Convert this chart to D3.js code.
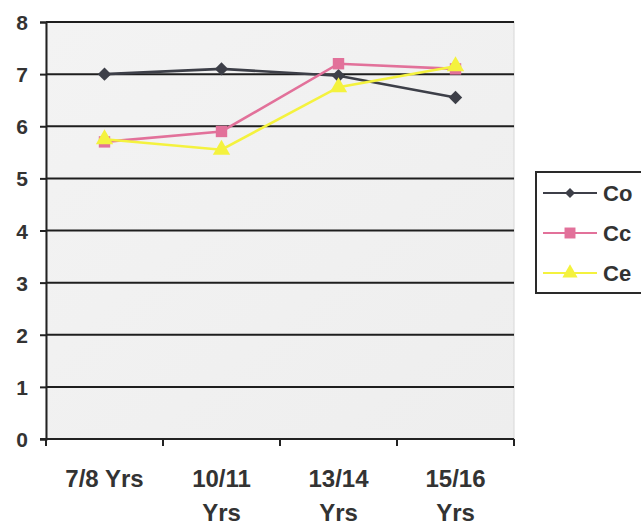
<!DOCTYPE html>
<html>
<head>
<meta charset="utf-8">
<script src="https://cdn.jsdelivr.net/npm/d3@7"></script>
<style>
  html, body { margin: 0; padding: 0; background: #ffffff; }
  svg { display: block; }
  text { font-family: "Liberation Sans", Arial, sans-serif; font-weight: bold; fill: #333333; }
</style>
</head>
<body>
<svg id="chart" width="641" height="527"></svg>
<script>
const categories = [["7/8 Yrs"], ["10/11", "Yrs"], ["13/14", "Yrs"], ["15/16", "Yrs"]];
const seriesNames = ["Co", "Cc", "Ce"];
const coValues = [7.0, 7.1, 6.97, 6.55];
const ccValues = [5.7, 5.9, 7.2, 7.1];
const ceValues = [5.75, 5.55, 6.75, 7.15];
const yTicks = [0, 1, 2, 3, 4, 5, 6, 7, 8];

// rotated-square diamond symbol
const squareDiamond = {
  draw(ctx, size) {
    const r = Math.sqrt(size / 2);
    ctx.moveTo(0, -r); ctx.lineTo(r, 0); ctx.lineTo(0, r); ctx.lineTo(-r, 0); ctx.closePath();
  }
};

const series = [
  { name: seriesNames[0], values: coValues, color: "#3d3f48", marker: squareDiamond, size: 90, lsize: 50 },
  { name: seriesNames[1], values: ccValues, color: "#e2719a", marker: d3.symbolSquare, size: 130, lsize: 120 },
  { name: seriesNames[2], values: ceValues, color: "#f4f23e", marker: d3.symbolTriangle, size: 130, lsize: 100 }
];

const svg = d3.select("#chart");
const pL = 46, pR = 514, pT = 22, pB = 439;

const x = d3.scaleBand().domain(categories.map((c, i) => i)).range([pL, pR]);
const y = d3.scaleLinear().domain([0, 8]).range([pB, pT]);

// plot background
const grad = svg.append("defs").append("linearGradient").attr("id", "bg")
  .attr("x1", 0).attr("y1", 0).attr("x2", 1).attr("y2", 1);
grad.append("stop").attr("offset", "0%").attr("stop-color", "#f3f3f3");
grad.append("stop").attr("offset", "100%").attr("stop-color", "#eeeeee");
svg.append("rect").attr("x", pL).attr("y", pT).attr("width", pR - pL).attr("height", pB - pT)
  .attr("fill", "url(#bg)").attr("stroke", "#d8d8d8").attr("stroke-width", 1);

// gridlines
svg.append("g").selectAll("line").data(yTicks.filter(t => t > 0)).join("line")
  .attr("x1", pL).attr("x2", pR)
  .attr("y1", d => y(d)).attr("y2", d => y(d))
  .attr("stroke", "#1e1e1e").attr("stroke-width", 2);

// y axis
const yAxis = svg.append("g").attr("transform", `translate(${pL},0)`)
  .call(d3.axisLeft(y).tickValues(yTicks).tickSize(6).tickPadding(12).tickFormat(d3.format("d")));
yAxis.select(".domain").attr("stroke", "#222").attr("stroke-width", 2);
yAxis.selectAll(".tick line").attr("stroke", "#222").attr("stroke-width", 2);
yAxis.selectAll(".tick text").attr("font-size", 21).attr("font-family", "Liberation Sans, Arial, sans-serif")
  .attr("font-weight", "bold").attr("fill", "#333").attr("dy", "0.36em");

// x axis
const xAxisG = svg.append("g").attr("transform", `translate(0,${pB})`);
xAxisG.append("line").attr("x1", pL - 6).attr("x2", pR).attr("y1", 0).attr("y2", 0)
  .attr("stroke", "#222").attr("stroke-width", 2);
const bounds = categories.map((c, i) => x(i)).concat([x(categories.length - 1) + x.bandwidth()]);
xAxisG.selectAll("line.tk").data(bounds).join("line").attr("class", "tk")
  .attr("x1", d => d).attr("x2", d => d).attr("y1", 0).attr("y2", 7)
  .attr("stroke", "#222").attr("stroke-width", 2);
const lab = xAxisG.selectAll("text.cat").data(categories).join("text").attr("class", "cat")
  .attr("text-anchor", "middle").attr("font-size", 24)
  .attr("x", (d, i) => x(i) + x.bandwidth() / 2);
lab.selectAll("tspan").data(d => d).join("tspan")
  .attr("x", function() { return d3.select(this.parentNode).attr("x"); })
  .attr("y", (d, j) => 48 + j * 34)
  .text(d => d);

// lines and markers
const line = d3.line().x((d, i) => x(i) + x.bandwidth() / 2).y(d => y(d));
series.forEach(s => {
  svg.append("path").datum(s.values).attr("d", line)
    .attr("fill", "none").attr("stroke", s.color).attr("stroke-width", 2.6);
  svg.append("g").selectAll("path").data(s.values).join("path")
    .attr("transform", (d, i) => `translate(${x(i) + x.bandwidth() / 2},${y(d)})`)
    .attr("d", d3.symbol().type(s.marker).size(s.size))
    .attr("fill", s.color);
});

// legend
const lg = svg.append("g");
lg.append("rect").attr("x", 536).attr("y", 172).attr("width", 120).attr("height", 121)
  .attr("fill", "#ffffff").attr("stroke", "#2a2a2a").attr("stroke-width", 2);
series.forEach((s, i) => {
  const ly = 193 + i * 40;
  lg.append("line").attr("x1", 543).attr("x2", 597).attr("y1", ly).attr("y2", ly)
    .attr("stroke", s.color).attr("stroke-width", 2.2);
  lg.append("path").attr("transform", `translate(570,${ly})`)
    .attr("d", d3.symbol().type(s.marker).size(s.lsize)).attr("fill", s.color);
  lg.append("text").attr("x", 603).attr("y", ly).attr("dy", "0.36em")
    .attr("font-size", 22).text(s.name);
});
</script>
</body>
</html>
